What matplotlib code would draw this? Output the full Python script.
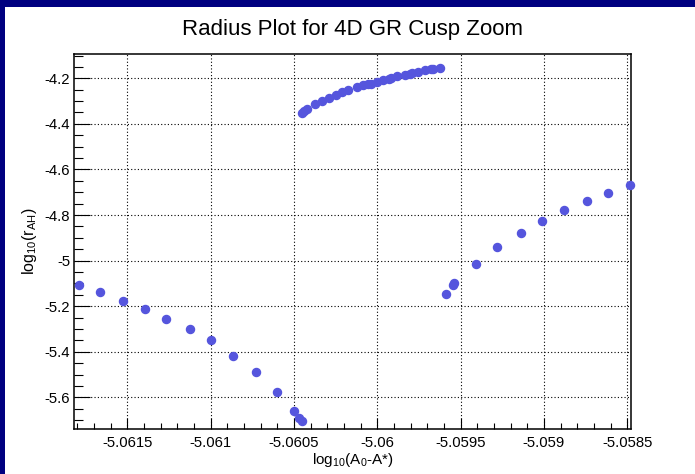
import matplotlib
matplotlib.use("Agg")
import matplotlib.pyplot as plt
from matplotlib.patches import Rectangle
from matplotlib.ticker import MultipleLocator, FormatStrFormatter

plt.rcParams['font.family'] = ['Liberation Sans', 'DejaVu Sans']
plt.rcParams['mathtext.fontset'] = 'custom'
plt.rcParams['mathtext.rm'] = 'Liberation Sans'
plt.rcParams['mathtext.it'] = 'Liberation Sans'

# lower-left branch
x_left = [-5.061790, -5.061663, -5.061525, -5.061393, -5.061268, -5.061122,
          -5.060996, -5.060866, -5.060726, -5.060602, -5.060500, -5.060470,
          -5.060450]
y_left = [-5.1083, -5.1390, -5.1759, -5.2110, -5.2548, -5.2987,
          -5.3496, -5.4172, -5.4874, -5.5778, -5.6612, -5.6919,
          -5.7050]

# upper branch
x_up = [-5.060454, -5.060440, -5.060424, -5.060372, -5.060330, -5.060288,
        -5.060250, -5.060212, -5.060174, -5.060120, -5.060084, -5.060054,
        -5.060040, -5.060000, -5.059964, -5.059930, -5.059916, -5.059880,
        -5.059836, -5.059804, -5.059790, -5.059754, -5.059714, -5.059679,
        -5.059667, -5.059624]
y_up = [-4.3509, -4.3448, -4.3360, -4.3128, -4.2983, -4.2864,
        -4.2733, -4.2601, -4.2513, -4.2382, -4.2307, -4.2263,
        -4.2250, -4.2176, -4.2088, -4.2018, -4.1987, -4.1899,
        -4.1855, -4.1798, -4.1767, -4.1724, -4.1649, -4.1605,
        -4.1592, -4.1548]

# right branch
x_right = [-5.059588, -5.059546, -5.059538, -5.059406, -5.059280, -5.059136,
           -5.059010, -5.058879, -5.058739, -5.058613, -5.058483]
y_right = [-5.1451, -5.1056, -5.0969, -5.0135, -4.9389, -4.8775,
           -4.8248, -4.7766, -4.7371, -4.7020, -4.6682]

W, H = 695, 474
fig = plt.figure(figsize=(W / 100, H / 100), dpi=100)
fig.patch.set_facecolor('white')

# canvas border (dark blue, top and left)
fig.add_artist(Rectangle((0, 1 - 7 / H), 1, 7 / H, transform=fig.transFigure,
                         color='#000080', lw=0, zorder=0))
fig.add_artist(Rectangle((0, 0), 5 / W, 1, transform=fig.transFigure,
                         color='#000080', lw=0, zorder=0))

ax = fig.add_axes([74.3 / W, (H - 429.3) / H, 556.7 / W, 375.3 / H])

col = '#5555dd'
for xs, ys in [(x_left, y_left), (x_up, y_up), (x_right, y_right)]:
    ax.plot(xs, ys, 'o', color=col, ms=5.8, mec=col, clip_on=False, zorder=3)

ax.set_xlim(-5.061819, -5.058477)
ax.set_ylim(-5.740, -4.0934)

ax.xaxis.set_major_locator(MultipleLocator(0.0005))
ax.xaxis.set_minor_locator(MultipleLocator(0.0001))
ax.yaxis.set_major_locator(MultipleLocator(0.2))
ax.yaxis.set_minor_locator(MultipleLocator(0.05))
ax.xaxis.set_major_formatter(FormatStrFormatter('%g'))
ax.yaxis.set_major_formatter(FormatStrFormatter('%g'))

ax.tick_params(axis='x', which='major', direction='in', length=8, width=0.8,
               labelsize=10.7, pad=5)
ax.tick_params(axis='x', which='minor', direction='in', length=4.3, width=0.8)
ax.tick_params(axis='y', which='major', direction='in', length=11.5, width=0.8,
               labelsize=10.7, pad=3)
ax.tick_params(axis='y', which='minor', direction='in', length=6.2, width=0.8)

ax.grid(True, which='major', color='black', lw=0.8, linestyle=(0, (1, 2)))
for s in ax.spines.values():
    s.set_linewidth(1.1)

ax.set_xlabel(r'log$_{10}$(A$_{0}$-A*)', fontsize=11)
ax.xaxis.set_label_coords(0.5, -0.058)
ax.xaxis.label.set_va('top')
ax.set_ylabel(r'log$_{10}$(r$_{AH}$)', fontsize=11.5)
ax.yaxis.set_label_coords(-0.063, 0.5)

fig.text(353 / W, (H - 29.5) / H, 'Radius Plot for 4D GR Cusp Zoom',
         ha='center', va='center', fontsize=16)

fig.savefig('out.png', dpi=100)
